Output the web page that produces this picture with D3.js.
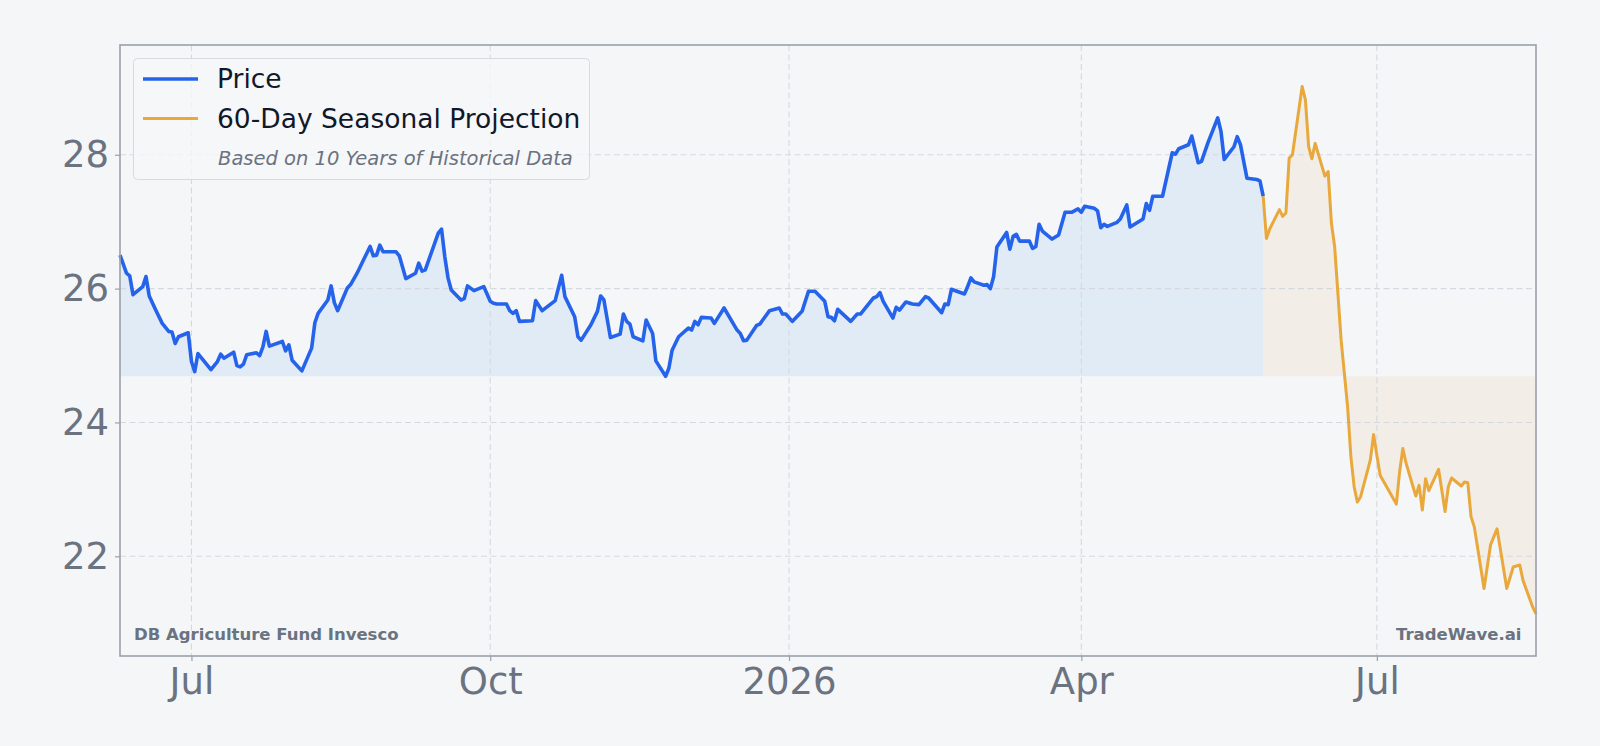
<!DOCTYPE html>
<html>
<head>
<meta charset="utf-8">
<script src="https://cdn.jsdelivr.net/npm/d3@7"></script>
<style>
  html, body { margin: 0; padding: 0; background: #f4f6f8; }
  svg { display: block; font-family: "DejaVu Sans", sans-serif; }
</style>
</head>
<body>
<div id="viz"></div>
<script>
// price history (vertices)
var priceDates = [
  "2025-06-09","2025-06-11","2025-06-12","2025-06-13","2025-06-16","2025-06-17","2025-06-18","2025-06-20","2025-06-22","2025-06-24",
  "2025-06-25","2025-06-26","2025-06-27","2025-06-30","2025-07-01","2025-07-02","2025-07-03","2025-07-07","2025-07-09","2025-07-10",
  "2025-07-11","2025-07-14","2025-07-15","2025-07-16","2025-07-17","2025-07-18","2025-07-21","2025-07-22","2025-07-23","2025-07-24",
  "2025-07-25","2025-07-29","2025-07-30","2025-07-31","2025-08-01","2025-08-04","2025-08-07","2025-08-08","2025-08-09","2025-08-12",
  "2025-08-13","2025-08-14","2025-08-15","2025-08-18","2025-08-19","2025-08-21","2025-08-23","2025-08-25","2025-08-26","2025-08-27",
  "2025-08-28","2025-08-29","2025-09-02","2025-09-03","2025-09-05","2025-09-08","2025-09-09","2025-09-10","2025-09-11","2025-09-15",
  "2025-09-16","2025-09-17","2025-09-18","2025-09-19","2025-09-22","2025-09-23","2025-09-24","2025-09-26","2025-09-29","2025-10-01",
  "2025-10-02","2025-10-03","2025-10-06","2025-10-07","2025-10-08","2025-10-09","2025-10-10","2025-10-14","2025-10-15","2025-10-17",
  "2025-10-21","2025-10-23","2025-10-24","2025-10-27","2025-10-28","2025-10-29","2025-11-01","2025-11-03","2025-11-04","2025-11-05",
  "2025-11-07","2025-11-10","2025-11-11","2025-11-12","2025-11-13","2025-11-14","2025-11-17","2025-11-18","2025-11-20","2025-11-21",
  "2025-11-24","2025-11-25","2025-11-26","2025-11-28","2025-12-01","2025-12-02","2025-12-03","2025-12-04","2025-12-05","2025-12-08",
  "2025-12-09","2025-12-12","2025-12-16","2025-12-17","2025-12-18","2025-12-19","2025-12-22","2025-12-23","2025-12-26","2025-12-29",
  "2025-12-30","2025-12-31","2026-01-02","2026-01-05","2026-01-07","2026-01-09","2026-01-12","2026-01-13","2026-01-14","2026-01-15",
  "2026-01-16","2026-01-20","2026-01-22","2026-01-23","2026-01-27","2026-01-28","2026-01-29","2026-01-30","2026-02-02","2026-02-03",
  "2026-02-04","2026-02-06","2026-02-08","2026-02-10","2026-02-12","2026-02-13","2026-02-17","2026-02-18","2026-02-19","2026-02-20",
  "2026-02-24","2026-02-25","2026-02-26","2026-02-27","2026-03-02","2026-03-03","2026-03-04","2026-03-05","2026-03-06","2026-03-09",
  "2026-03-10","2026-03-11","2026-03-12","2026-03-13","2026-03-16","2026-03-17","2026-03-18","2026-03-19","2026-03-20","2026-03-23",
  "2026-03-25","2026-03-27","2026-03-29","2026-03-31","2026-04-01","2026-04-02","2026-04-05","2026-04-06","2026-04-07","2026-04-08",
  "2026-04-09","2026-04-12","2026-04-13","2026-04-15","2026-04-16","2026-04-20","2026-04-21","2026-04-22","2026-04-23","2026-04-26",
  "2026-04-29","2026-04-30","2026-05-01","2026-05-04","2026-05-05","2026-05-07","2026-05-08","2026-05-10","2026-05-13","2026-05-14",
  "2026-05-15","2026-05-18","2026-05-19","2026-05-20","2026-05-22","2026-05-25","2026-05-26","2026-05-27"
];
var priceValues = [
  26.50,26.23,26.19,25.91,26.03,26.18,25.89,25.68,25.48,25.36,
  25.35,25.18,25.28,25.34,24.91,24.76,25.03,24.79,24.91,25.02,
  24.96,25.05,24.85,24.83,24.87,25.01,25.04,25.00,25.13,25.36,
  25.14,25.21,25.07,25.16,24.93,24.77,25.11,25.49,25.63,25.83,
  26.04,25.79,25.67,26.01,26.06,26.23,26.43,26.63,26.49,26.50,
  26.65,26.55,26.55,26.49,26.15,26.23,26.38,26.26,26.28,26.83,
  26.89,26.48,26.16,25.98,25.83,25.85,26.04,25.97,26.03,25.81,
  25.78,25.77,25.77,25.67,25.63,25.67,25.51,25.52,25.82,25.67,
  25.82,26.20,25.88,25.58,25.28,25.23,25.46,25.66,25.89,25.83,
  25.27,25.32,25.62,25.51,25.47,25.28,25.22,25.53,25.33,24.92,
  24.69,24.81,25.08,25.28,25.41,25.38,25.51,25.46,25.57,25.56,
  25.48,25.71,25.38,25.33,25.22,25.23,25.45,25.47,25.67,25.71,
  25.62,25.62,25.51,25.66,25.96,25.96,25.81,25.58,25.57,25.52,
  25.69,25.51,25.62,25.62,25.86,25.88,25.94,25.81,25.56,25.72,
  25.68,25.80,25.77,25.76,25.88,25.86,25.64,25.77,25.76,25.99,
  25.92,26.03,26.16,26.10,26.05,26.06,26.00,26.18,26.62,26.84,
  26.59,26.78,26.81,26.71,26.71,26.60,26.63,26.96,26.86,26.74,
  26.80,27.14,27.14,27.19,27.14,27.23,27.20,27.16,26.91,26.96,
  26.93,26.99,27.04,27.25,26.92,27.04,27.27,27.17,27.38,27.38,
  28.03,28.01,28.09,28.15,28.28,27.88,27.90,28.18,28.55,28.35,
  27.93,28.12,28.27,28.15,27.65,27.63,27.61,27.38
];

// 60-day seasonal projection
var projDates = [
  "2026-05-27","2026-05-28","2026-05-29","2026-06-01","2026-06-02","2026-06-03","2026-06-04","2026-06-05","2026-06-08","2026-06-09",
  "2026-06-10","2026-06-11","2026-06-12","2026-06-15","2026-06-16","2026-06-17","2026-06-18","2026-06-20","2026-06-22","2026-06-23",
  "2026-06-24","2026-06-25","2026-06-26","2026-06-29","2026-06-30","2026-07-01","2026-07-02","2026-07-07","2026-07-08","2026-07-09",
  "2026-07-10","2026-07-13","2026-07-14","2026-07-15","2026-07-16","2026-07-17","2026-07-20","2026-07-22","2026-07-23","2026-07-24",
  "2026-07-27","2026-07-28","2026-07-29","2026-07-30","2026-07-31","2026-08-03","2026-08-05","2026-08-07","2026-08-10","2026-08-12",
  "2026-08-14","2026-08-15","2026-08-18","2026-08-19"
];
var projValues = [
  27.38,26.75,26.89,27.18,27.08,27.13,27.95,28.00,29.02,28.82,
  28.12,27.94,28.17,27.68,27.75,26.98,26.63,25.23,24.23,23.49,
  23.04,22.81,22.89,23.44,23.82,23.51,23.21,22.78,23.26,23.61,
  23.39,22.90,23.06,22.69,23.16,22.98,23.30,22.67,23.04,23.17,
  23.05,23.11,23.10,22.59,22.44,21.52,22.17,22.41,21.52,21.84,
  21.87,21.64,21.24,21.14
];

var xTickDates = ["2025-07-01","2025-10-01","2026-01-01","2026-04-01","2026-07-01"];
var xTickLabels = ["Jul","Oct","2026","Apr","Jul"];
var yTicks = [22,24,26,28];

var W = 1600, H = 746;
var margin = {top: 45, right: 64, bottom: 90, left: 120},
    width = W - margin.left - margin.right,
    height = H - margin.top - margin.bottom;

var parse = d3.timeParse("%Y-%m-%d");
var price = priceDates.map(function(d, i) { return {date: parse(d), value: priceValues[i]}; });
var proj = projDates.map(function(d, i) { return {date: parse(d), value: projValues[i]}; });

var x = d3.scaleTime()
    .domain([price[0].date, proj[proj.length-1].date])
    .range([0, width]);
var y = d3.scaleLinear().domain([20.51, 29.64]).range([height, 0]);

var base = d3.min(priceValues);

var svg = d3.select("#viz").append("svg")
    .attr("width", W)
    .attr("height", H);

svg.append("rect").attr("width", W).attr("height", H).attr("fill", "#f4f6f8");

var g = svg.append("g")
    .attr("transform", "translate(" + margin.left + "," + margin.top + ")");

// fills
var area = d3.area()
    .x(function(d) { return x(d.date); })
    .y0(y(base))
    .y1(function(d) { return y(d.value); });

g.append("path").datum(price).attr("d", area).attr("fill", "#e1ebf6");
g.append("path").datum(proj).attr("d", area).attr("fill", "#f2ede6");

// grid
g.selectAll(".vgrid")
    .data(xTickDates)
  .enter().append("line")
    .attr("x1", function(d) { return x(parse(d)); })
    .attr("x2", function(d) { return x(parse(d)); })
    .attr("y1", 0).attr("y2", height)
    .attr("stroke", "#d5d9df").attr("stroke-width", 1.1)
    .attr("stroke-dasharray", "6,3.5");

g.selectAll(".hgrid")
    .data(yTicks)
  .enter().append("line")
    .attr("x1", 0).attr("x2", width)
    .attr("y1", function(d) { return y(d); })
    .attr("y2", function(d) { return y(d); })
    .attr("stroke", "#d5d9df").attr("stroke-width", 1.1)
    .attr("stroke-dasharray", "6,3.5");

// lines
var line = d3.line()
    .x(function(d) { return x(d.date); })
    .y(function(d) { return y(d.value); });

g.append("path").datum(proj).attr("d", line)
    .attr("fill", "none").attr("stroke", "#e9a83b")
    .attr("stroke-width", 3).attr("stroke-linejoin", "round");

g.append("path").datum(price).attr("d", line)
    .attr("fill", "none").attr("stroke", "#2563eb")
    .attr("stroke-width", 3.6).attr("stroke-linejoin", "round");

// axes
var xAxis = g.append("g")
    .attr("transform", "translate(0," + height + ")")
    .call(d3.axisBottom(x)
      .tickValues(xTickDates.map(parse))
      .tickFormat(function(d, i) { return xTickLabels[i]; })
      .tickSize(5).tickPadding(7));

var yAxis = g.append("g")
    .call(d3.axisLeft(y).tickValues(yTicks).tickFormat(d3.format("d"))
      .tickSize(5).tickPadding(6));

[xAxis, yAxis].forEach(function(a) {
  a.select(".domain").remove();
  a.selectAll(".tick line").attr("stroke", "#9aa0ab").attr("stroke-width", 1.2);
  a.selectAll(".tick text")
    .attr("fill", "#6b7280")
    .style("font-size", "37px")
    .style("font-family", "'DejaVu Sans', sans-serif");
});

// frame
g.append("rect")
    .attr("width", width).attr("height", height)
    .attr("fill", "none").attr("stroke", "#9aa0ab").attr("stroke-width", 1.6);

// legend
var leg = svg.append("g");
leg.append("rect")
    .attr("x", 133.5).attr("y", 58.5).attr("width", 456).attr("height", 121).attr("rx", 4)
    .attr("fill", "#f5f7f9").attr("fill-opacity", 0.8)
    .attr("stroke", "#d7dbe0").attr("stroke-width", 1);
leg.append("line").attr("x1", 143).attr("x2", 198).attr("y1", 79).attr("y2", 79)
    .attr("stroke", "#2563eb").attr("stroke-width", 3.6);
leg.append("line").attr("x1", 143).attr("x2", 198).attr("y1", 118.5).attr("y2", 118.5)
    .attr("stroke", "#e9a83b").attr("stroke-width", 3);
leg.append("text").attr("x", 217).attr("y", 88.3).text("Price")
    .attr("fill", "#111827").style("font-size", "26.5px");
leg.append("text").attr("x", 217).attr("y", 128.3).text("60-Day Seasonal Projection")
    .attr("fill", "#111827").style("font-size", "26.5px");
leg.append("text").attr("x", 218).attr("y", 165).text("Based on 10 Years of Historical Data")
    .attr("fill", "#6b7280").style("font-size", "19.5px").style("font-style", "italic");

// watermarks
svg.append("text").attr("x", 134).attr("y", 639.5).text("DB Agriculture Fund Invesco")
    .attr("fill", "#6b7280").style("font-size", "16.5px").style("font-weight", "bold");
svg.append("text").attr("x", 1521.5).attr("y", 639.5).attr("text-anchor", "end").text("TradeWave.ai")
    .attr("fill", "#6b7280").style("font-size", "16.5px").style("font-weight", "bold");
</script>
</body>
</html>
